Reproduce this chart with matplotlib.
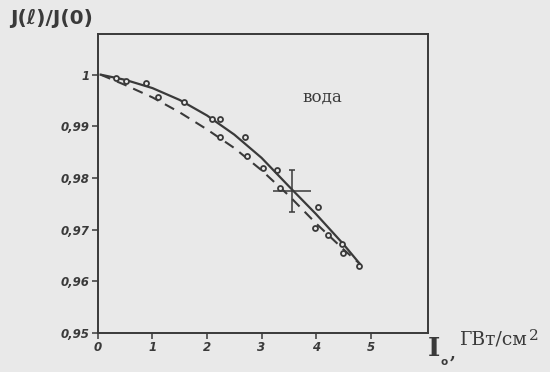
import matplotlib
matplotlib.use("Agg")
import matplotlib.pyplot as plt

# Solid curve (theory 1)
solid_x = [0.05, 0.5, 1.0, 1.5, 2.0, 2.5, 3.0, 3.5, 4.0, 4.5, 4.8]
solid_y = [1.0, 0.9990, 0.9974, 0.9951, 0.9921, 0.9884, 0.9839, 0.9784, 0.9730, 0.9672, 0.9634]
# Dashed curve (theory 2)
dash_x = [0.05, 0.5, 1.0, 1.5, 2.0, 2.5, 3.0, 3.5, 4.0, 4.5, 4.8]
dash_y = [1.0, 0.9980, 0.9956, 0.9927, 0.9894, 0.9858, 0.9815, 0.9766, 0.9712, 0.9662, 0.9634]
# Experimental points
pts_x = [0.33, 0.51, 0.88, 1.10, 1.57, 2.10, 2.24, 2.24, 2.70, 2.74, 3.03, 3.28, 3.34,
         3.98, 4.03, 4.21, 4.47, 4.49, 4.78]
pts_y = [0.9994, 0.9987, 0.9983, 0.9956, 0.9948, 0.9915, 0.9915, 0.9880, 0.9880, 0.9843,
         0.9820, 0.9816, 0.9780, 0.9704, 0.9743, 0.9690, 0.9672, 0.9654, 0.9630]
# Error cross
err_x, err_y = [3.56], [0.9775]
err_dx, err_dy = [0.35], [0.0040]

xticks = [0, 1, 2, 3, 4, 5]
xtick_labels = ["0", "1", "2", "3", "4", "5"]
yticks = [0.95, 0.96, 0.97, 0.98, 0.99, 1.0]
ytick_labels = ["0,95", "0,96", "0,97", "0,98", "0,99", "1"]

ink = "#3a3a3a"
bg = "#e9e9e9"

fig = plt.figure(figsize=(5.5, 3.72), dpi=100, facecolor=bg)
ax = fig.add_axes([0.178, 0.105, 0.600, 0.804])
ax.set_facecolor(bg)

ax.plot(solid_x, solid_y, color=ink, lw=1.6)
ax.plot(dash_x, dash_y, color=ink, lw=1.5, dashes=(5, 3.5))
ax.plot(pts_x, pts_y, 'o', ms=3.6, mfc=bg, mec=ink, mew=1.3, ls='none')
ax.errorbar(err_x, err_y, yerr=err_dy, fmt='none', ecolor=ink, elinewidth=1.1, capsize=2.5, capthick=1.1)
ax.errorbar(err_x, err_y, xerr=err_dx, fmt='none', ecolor=ink, elinewidth=1.1, capsize=0)

ax.set_xlim(0.03, 6.05)
ax.set_ylim(0.95, 1.0079)
ax.set_xticks(xticks)
ax.set_xticklabels(xtick_labels)
ax.set_yticks(yticks)
ax.set_yticklabels(ytick_labels)
for sp in ax.spines.values():
    sp.set_color(ink)
    sp.set_linewidth(1.4)
ax.tick_params(axis='both', direction='out', length=4, width=1.1, color=ink,
               labelcolor=ink, labelsize=8.5, pad=2)
for lab in ax.get_xticklabels() + ax.get_yticklabels():
    lab.set_fontweight('bold')
    lab.set_fontstyle('italic')

fig.text(0.018, 0.949, "J(ℓ)/J(0)", fontsize=14.5, fontweight='bold', color=ink,
         ha='left', va='center')
ax.text(4.12, 0.9957, "вода", fontsize=12, family='DejaVu Serif', color=ink,
        ha='center', va='center')
# x-axis label  I_o, ГВт/см2
fig.text(0.778, 0.042, "I", fontsize=19, fontweight='bold', family='DejaVu Serif',
         color=ink, ha='left', va='baseline')
fig.text(0.801, 0.020, "o", fontsize=7.5, fontweight='bold', color=ink,
         ha='left', va='baseline')
fig.text(0.818, 0.036, ",", fontsize=12, fontweight='bold', family='DejaVu Serif',
         color=ink, ha='left', va='baseline')
unit = fig.text(0.836, 0.073, "ГВт/см", fontsize=13.5, family='DejaVu Serif', color=ink,
                ha='left', va='baseline')
ax.annotate("2", xy=(1.0, 1.0), xycoords=unit, xytext=(1, 1), textcoords='offset points',
            fontsize=11, family='DejaVu Serif', color=ink, ha='left', va='top',
            annotation_clip=False)

fig.savefig("out.png", dpi=100, facecolor=bg)
